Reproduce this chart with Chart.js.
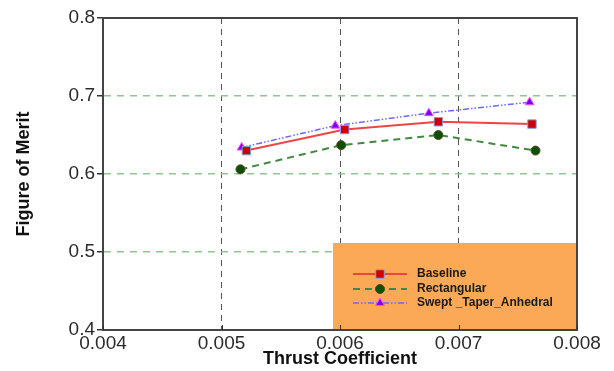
<!DOCTYPE html>
<html>
<head>
<meta charset="utf-8">
<title>Figure of Merit vs Thrust Coefficient</title>
<script src="https://cdn.jsdelivr.net/npm/chart.js@4.4.1/dist/chart.umd.min.js"></script>
<style>
  html, body { margin: 0; padding: 0; background: #fff; }
  #wrap { width: 614px; height: 371px; position: relative; }
</style>
</head>
<body>
<div id="wrap"><canvas id="fomChart"></canvas></div>
<script>
// rotor data : thrust coefficient / figure of merit
const thrustBaseline = [0.00521, 0.00604, 0.00683, 0.00762];
const fomBaseline    = [0.630, 0.657, 0.667, 0.664];

const thrustRect = [0.00516, 0.00601, 0.00683, 0.00765];
const fomRect    = [0.606, 0.637, 0.650, 0.630];

const thrustSwept = [0.00517, 0.00596, 0.00675, 0.00760];
const fomSwept    = [0.634, 0.662, 0.678, 0.692];

const xTicks = [0.004, 0.005, 0.006, 0.007, 0.008];
const yTicks = [0.4, 0.5, 0.6, 0.7, 0.8];

const seriesNames = ['Baseline', 'Rectangular', 'Swept _Taper_Anhedral'];

const FONT = "'Liberation Sans', Arial, sans-serif";

function toPoints(xs, ys) {
    return xs.map((x, i) => ({ x: x, y: ys[i] }));
}

// legend box drawn inside the plot area (bottom right), over the grid
const legendBox = {
    id: 'legendBox',
    beforeDatasetsDraw(chart) {
        const ctx = chart.ctx;
        const a = chart.chartArea;
        const w = 244, h = 87;
        const left = a.right - w, top = a.bottom - h;
        ctx.save();
        ctx.fillStyle = '#fba956';
        ctx.fillRect(left, top, w, h);

        const rows = [top + 31, top + 46, top + 60];
        chart.data.datasets.forEach((ds, i) => {
            const y = rows[i];
            ctx.strokeStyle = ds.borderColor;
            ctx.lineWidth = ds.borderWidth;
            ctx.setLineDash(ds.borderDash || []);
            ctx.beginPath();
            ctx.moveTo(left + 20, y);
            ctx.lineTo(left + 74, y);
            ctx.stroke();
            ctx.setLineDash([]);
            ctx.fillStyle = ds.pointBackgroundColor;
            ctx.strokeStyle = ds.pointBorderColor;
            ctx.lineWidth = 1;
            Chart.helpers.drawPoint(ctx, {
                pointStyle: ds.pointStyle,
                radius: ds.pointRadius,
                borderWidth: 1
            }, left + 47, y);

            ctx.fillStyle = '#1a1a1a';
            ctx.font = 'bold 12px ' + FONT;
            ctx.textAlign = 'left';
            ctx.textBaseline = 'middle';
            ctx.fillText(ds.label, left + 84, y);
        });
        ctx.restore();
    },
    afterDraw(chart) {
        // frame round the plot area and inward ticks on the x axis
        const ctx = chart.ctx;
        const a = chart.chartArea;
        const xs = chart.scales.x;
        ctx.save();
        ctx.strokeStyle = '#444';
        ctx.lineWidth = 2;
        ctx.strokeRect(a.left, a.top, a.right - a.left, a.bottom - a.top);
        ctx.lineWidth = 1;
        ctx.strokeStyle = '#333';
        xTicks.forEach(v => {
            const px = Math.round(xs.getPixelForValue(v)) + 0.5;
            ctx.beginPath();
            ctx.moveTo(px, a.bottom);
            ctx.lineTo(px, a.bottom - 5);
            ctx.stroke();
        });
        ctx.restore();
    }
};

const ctx = document.getElementById('fomChart').getContext('2d');
const fomChart = new Chart(ctx, {
    type: 'scatter',
    data: {
        datasets: [{
            label: seriesNames[0],
            data: toPoints(thrustBaseline, fomBaseline),
            showLine: true,
            borderColor: '#ee4444',
            borderWidth: 2,
            pointStyle: 'rect',
            pointRadius: 6,
            pointBackgroundColor: '#cc0000',
            pointBorderColor: '#7aa8ee',
            pointBorderWidth: 1
        }, {
            label: seriesNames[1],
            data: toPoints(thrustRect, fomRect),
            showLine: true,
            borderColor: '#3f8a3f',
            borderWidth: 2,
            borderDash: [7, 5],
            pointStyle: 'circle',
            pointRadius: 4.5,
            pointBackgroundColor: '#0b4f0b',
            pointBorderColor: '#5a4a1a',
            pointBorderWidth: 1
        }, {
            label: seriesNames[2],
            data: toPoints(thrustSwept, fomSwept),
            showLine: true,
            borderColor: '#6a6aff',
            borderWidth: 1.5,
            borderDash: [6, 2, 1.5, 2, 1.5, 2],
            pointStyle: 'triangle',
            pointRadius: 5,
            pointBackgroundColor: '#7a00ee',
            pointBorderColor: '#ff44ff',
            pointBorderWidth: 1
        }]
    },
    options: {
        responsive: true,
        maintainAspectRatio: false,
        animation: false,
        layout: { padding: { top: 18, right: 37, left: 0, bottom: 0 } },
        plugins: {
            legend: { display: false },
            tooltip: { enabled: false }
        },
        scales: {
            x: {
                type: 'linear',
                min: 0.004,
                max: 0.008,
                afterBuildTicks: scale => { scale.ticks = xTicks.map(v => ({ value: v })); },
                afterFit: scale => { scale.height = 41; },
                // border.dash sets the dash of the grid lines
                border: { display: true, color: '#444', width: 2, dash: [6, 5] },
                grid: {
                    color: '#555',
                    lineWidth: 1,
                    drawTicks: false,
                    tickLength: 0
                },
                ticks: {
                    autoSkip: false,
                    maxRotation: 0,
                    padding: 2,
                    color: '#2b2b2b',
                    font: { family: FONT, size: 19 },
                    callback: v => v.toFixed(3)
                },
                title: {
                    display: true,
                    text: 'Thrust Coefficient',
                    color: '#111',
                    padding: { top: 0, bottom: 1 },
                    font: { family: FONT, size: 18, weight: 'bold' }
                }
            },
            y: {
                type: 'linear',
                min: 0.4,
                max: 0.8,
                afterBuildTicks: scale => { scale.ticks = yTicks.map(v => ({ value: v })); },
                afterFit: scale => { scale.width = 103; },
                border: { display: true, color: '#444', width: 2, dash: [7, 6] },
                grid: {
                    color: '#93c493',
                    lineWidth: 1.5,
                    tickColor: '#333',
                    tickLength: 6,
                    tickWidth: 1.5,
                    tickBorderDash: []
                },
                ticks: {
                    autoSkip: false,
                    padding: 2,
                    color: '#2b2b2b',
                    font: { family: FONT, size: 19 },
                    callback: v => v.toFixed(1)
                },
                title: {
                    display: true,
                    text: 'Figure of Merit',
                    color: '#111',
                    padding: { top: 13, bottom: 0 },
                    font: { family: FONT, size: 18, weight: 'bold' }
                }
            }
        }
    },
    plugins: [legendBox]
});
</script>
</body>
</html>
